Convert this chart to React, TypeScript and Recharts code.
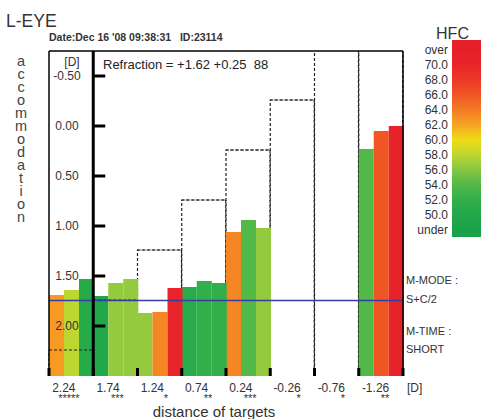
import React from "react";
import { Bar, BarChart, Cell, ReferenceLine, XAxis, YAxis } from "recharts";

// target distances (D) and the measurement repeat marks under each
const distances = [2.24, 1.74, 1.24, 0.74, 0.24, -0.26, -0.76, -1.26];
const starCounts = [5, 3, 1, 2, 3, 1, 1, 2];

// accommodation response (D) for the three readings per target
const accomA = [1.69, 1.7, 1.87, 1.61, 1.06, null, null, 0.23];
const accomB = [1.64, 1.57, 1.86, 1.55, 0.94, null, null, 0.05];
const accomC = [1.53, 1.53, 1.62, 1.57, 1.02, null, null, 0.0];

// high frequency component for each reading
const hfcA = [62.5, 50, 56.5, 51, 63.5, null, null, 54];
const hfcB = [58, 56.5, 63.5, 52, 54, null, null, 66];
const hfcC = [50.5, 56.5, 70.5, 52, 56.5, null, null, 71];

const yTicks = [-0.5, 0, 0.5, 1, 1.5, 2];

const hfcLabels = ["over", "70.0", "68.0", "66.0", "64.0", "62.0", "60.0", "58.0", "56.0", "54.0", "52.0", "50.0", "under"];
const hfcLevels = [72, 70, 68, 66, 64, 62, 60, 58, 56, 54, 52, 50, 48];
const hfcColors = ["#e6202a", "#e8252a", "#ec3827", "#f05624", "#f47c24", "#f6a424", "#efdc14", "#bcd632", "#86c642", "#52b848", "#32ae4a", "#22a84a", "#1aa24a"];

const SPHERE = 1.62;
const CYL = 0.25;
const AXIS = 88;

const Y_MIN = -0.75;
const Y_MAX = 2.5;

const W = 481;
const H = 419;
const PLOT_L = 49;
const PLOT_R = 403;
const PLOT_T = 51;
const PLOT_B = 376;
const Y_AXIS_W = 40;
const X_AXIS_H = 30;
const COL = (PLOT_R - PLOT_L) / distances.length;
const FONT = '"Liberation Sans", Arial, sans-serif';

function hexToRgb(h: string) {
  const n = parseInt(h.slice(1), 16);
  return [(n >> 16) & 255, (n >> 8) & 255, n & 255];
}

function hfcColor(v: number) {
  for (let i = 0; i < hfcLevels.length - 1; i++) {
    const hi = hfcLevels[i];
    const lo = hfcLevels[i + 1];
    if (v <= hi && v >= lo) {
      const t = (hi - v) / (hi - lo);
      const a = hexToRgb(hfcColors[i]);
      const b = hexToRgb(hfcColors[i + 1]);
      const c = a.map((x, k) => Math.round(x + (b[k] - x) * t));
      return `rgb(${c[0]},${c[1]},${c[2]})`;
    }
  }
  return v > hfcLevels[0] ? hfcColors[0] : hfcColors[hfcColors.length - 1];
}

const rows = distances.map((d, i) => ({
  label: d.toFixed(2),
  stars: starCounts[i],
  a: accomA[i] == null ? null : [Y_MAX, accomA[i]],
  b: accomB[i] == null ? null : [Y_MAX, accomB[i]],
  c: accomC[i] == null ? null : [Y_MAX, accomC[i]],
  target: [Y_MAX, d],
}));

const XTick = (props: any) => {
  const { x, payload, index } = props;
  const i = typeof index === "number" ? index : rows.findIndex((r) => r.label === payload.value);
  const row = rows[i];
  const y = PLOT_B;
  return (
    <g>
      <line x1={x - COL / 2} x2={x - COL / 2} y1={y - 8} y2={y} stroke="#000" strokeWidth={3} />
      {i === rows.length - 1 && (
        <line x1={x + COL / 2} x2={x + COL / 2} y1={y - 8} y2={y} stroke="#000" strokeWidth={3} />
      )}
      <text fontSize={12} fill="#333" fontFamily={FONT}>
        <tspan x={x - 19} y={y + 16}>
          {payload.value}
        </tspan>
        <tspan x={x + 8.5} y={y + 25.5} textAnchor="end" fontSize={11}>
          {"*".repeat(row ? row.stars : 0)}
        </tspan>
      </text>
    </g>
  );
};

const YTick = (props: any) => {
  const { y, payload } = props;
  return (
    <g>
      <text x={PLOT_L + 18} y={y + 4} fontSize={12} fill="#333" textAnchor="middle" fontFamily={FONT}>
        {Number(payload.value).toFixed(2)}
      </text>
      <line x1={PLOT_L + COL} x2={PLOT_L + COL + 12} y1={y} y2={y} stroke="#000" strokeWidth={3} />
    </g>
  );
};

// dashed outline of the target level for each column
const TargetOutline = (props: any) => {
  const { x, y, width, height } = props;
  if (x == null || y == null) return null;
  const top = Math.min(y, y + height);
  const bottom = Math.max(y, y + height);
  return (
    <path
      d={`M${x},${bottom} L${x},${top} L${x + width},${top} L${x + width},${bottom}`}
      fill="none"
      stroke="#222"
      strokeWidth={1.2}
      strokeDasharray="3 2"
    />
  );
};

const TargetTop = (props: any) => {
  const { x, y, width, height } = props;
  if (x == null || y == null) return null;
  const top = Math.min(y, y + height);
  return <path d={`M${x},${top} L${x + width},${top}`} fill="none" stroke="#222" strokeWidth={1.2} strokeDasharray="3 2" />;
};

const accomLetters = "accommodation".split("");

export default function App() {
  const legendTop = 40;
  const legendBottom = 237;
  const labelY = (i: number) => 50 + i * 15;

  return (
    <div style={{ position: "absolute", left: 0, top: 0, width: W, height: H, background: "#fff", fontFamily: FONT }}>
      <BarChart
        width={W}
        height={H}
        data={rows}
        margin={{ top: PLOT_T, right: W - PLOT_R, bottom: H - PLOT_B - X_AXIS_H, left: PLOT_L - Y_AXIS_W }}
        barCategoryGap={0}
        barGap={0}
      >
        <XAxis
          xAxisId="main"
          dataKey="label"
          interval={0}
          height={X_AXIS_H}
          tickSize={0}
          tickMargin={0}
          tickLine={false}
          axisLine={{ stroke: "#000", strokeWidth: 3 }}
          tick={<XTick />}
        />
        <XAxis xAxisId="back" dataKey="label" hide />
        <XAxis xAxisId="front" dataKey="label" hide />
        <YAxis
          type="number"
          domain={[Y_MIN, Y_MAX]}
          reversed
          allowDataOverflow
          ticks={yTicks}
          interval={0}
          width={Y_AXIS_W}
          axisLine={false}
          tickLine={false}
          tick={<YTick />}
        />
        <Bar xAxisId="back" dataKey="target" shape={<TargetOutline />} isAnimationActive={false} />
        <Bar xAxisId="main" dataKey="a" isAnimationActive={false}>
          {rows.map((_, i) => (
            <Cell key={i} fill={hfcA[i] == null ? "none" : hfcColor(hfcA[i] as number)} />
          ))}
        </Bar>
        <Bar xAxisId="main" dataKey="b" isAnimationActive={false}>
          {rows.map((_, i) => (
            <Cell key={i} fill={hfcB[i] == null ? "none" : hfcColor(hfcB[i] as number)} />
          ))}
        </Bar>
        <Bar xAxisId="main" dataKey="c" isAnimationActive={false}>
          {rows.map((_, i) => (
            <Cell key={i} fill={hfcC[i] == null ? "none" : hfcColor(hfcC[i] as number)} />
          ))}
        </Bar>
        <Bar xAxisId="front" dataKey="target" shape={<TargetTop />} isAnimationActive={false} />
        <ReferenceLine xAxisId="main" y={SPHERE + CYL / 2} stroke="#3a3aa4" strokeWidth={1.3} />
        <ReferenceLine xAxisId="main" y={Y_MIN} stroke="#000" strokeWidth={1.5} />
        <ReferenceLine xAxisId="main" x={rows[0].label} position="start" stroke="#000" strokeWidth={1.5} />
        <ReferenceLine xAxisId="main" x={rows[rows.length - 1].label} position="end" stroke="#000" strokeWidth={1.5} />
        <ReferenceLine xAxisId="main" x={rows[1].label} position="start" stroke="#000" strokeWidth={3} />
      </BarChart>

      <svg width={W} height={H} style={{ position: "absolute", left: 0, top: 0, pointerEvents: "none" }}>
        <defs>
          <linearGradient id="hfcGrad" x1="0" y1="0" x2="0" y2="1">
            {hfcColors.map((c, i) => (
              <stop key={i} offset={(labelY(i) - legendTop) / (legendBottom - legendTop)} stopColor={c} />
            ))}
          </linearGradient>
        </defs>
        <text x={6} y={27} fontSize={17.5} fill="#333" fontFamily={FONT}>L-EYE</text>
        <text x={49} y={41} fontSize={10.5} fontWeight="bold" fill="#333" fontFamily={FONT}>
          {"Date:Dec 16 '08 09:38:31\u00a0\u00a0\u00a0ID:23114"}
        </text>
        <text x={21} y={65.5} fontSize={14.5} fill="#444" textAnchor="middle" fontFamily={FONT}>
          {accomLetters.map((ch, i) => (
            <tspan key={i} x={21} dy={i === 0 ? 0 : 13.05}>
              {ch}
            </tspan>
          ))}
        </text>
        <text x={72} y={66} fontSize={12} fill="#333" textAnchor="middle" fontFamily={FONT}>[D]</text>
        <text x={103} y={69} fontSize={13} fill="#222" fontFamily={FONT}>
          {`Refraction = +${SPHERE.toFixed(2)} +${CYL.toFixed(2)}\u00a0\u00a0${AXIS}`}
        </text>
        <text x={452.5} y={38.5} fontSize={16} fill="#333" textAnchor="middle" fontFamily={FONT}>HFC</text>
        <rect x={452} y={legendTop} width={W - 452} height={legendBottom - legendTop} fill="url(#hfcGrad)" />
        {hfcLabels.map((t, i) => (
          <text key={t} x={448} y={labelY(i) + 4.3} fontSize={12} fill="#333" textAnchor="end" fontFamily={FONT}>
            {t}
          </text>
        ))}
        <text x={406} y={284} fontSize={11} fill="#333" fontFamily={FONT}>M-MODE :</text>
        <text x={406} y={303} fontSize={11} fill="#333" fontFamily={FONT}>S+C/2</text>
        <text x={406} y={334.5} fontSize={11} fill="#333" fontFamily={FONT}>M-TIME :</text>
        <text x={406} y={353} fontSize={11} fill="#333" fontFamily={FONT}>SHORT</text>
        <text x={407} y={392} fontSize={12} fill="#333" fontFamily={FONT}>[D]</text>
        <text x={214} y={416.5} fontSize={15} fill="#333" textAnchor="middle" fontFamily={FONT}>distance of targets</text>
      </svg>
    </div>
  );
}
